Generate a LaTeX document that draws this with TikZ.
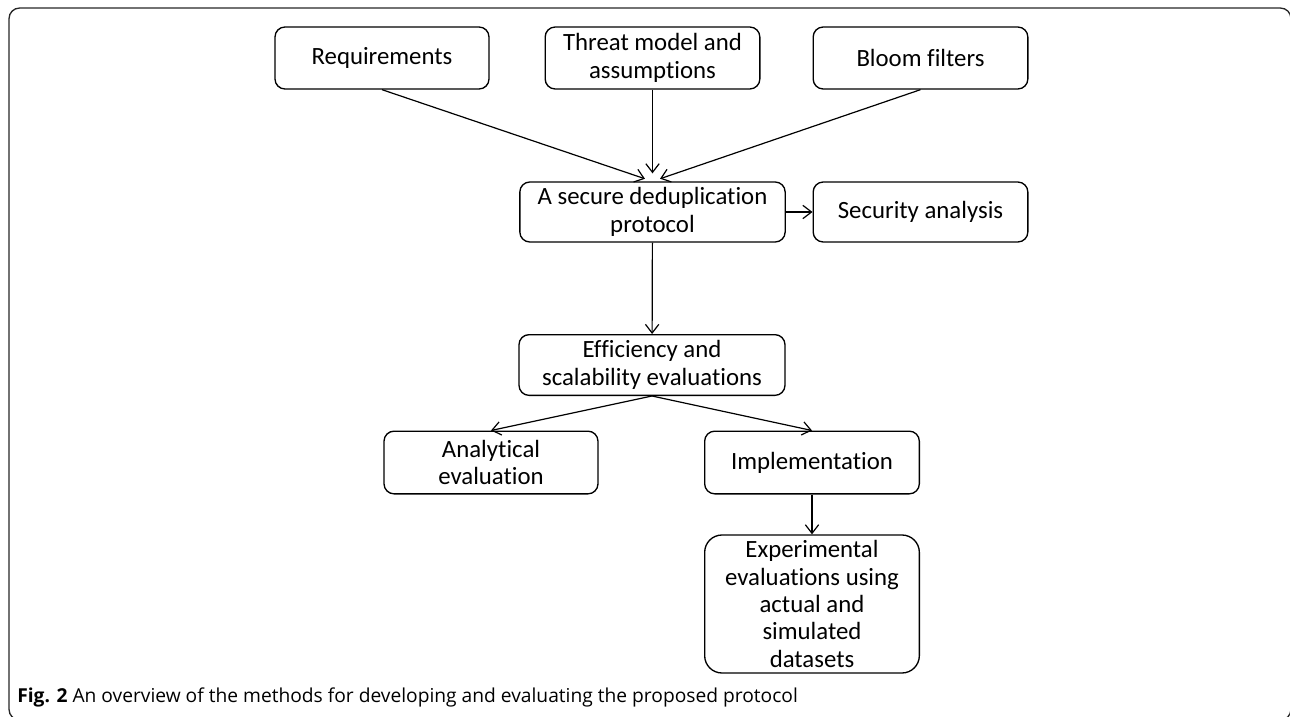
\documentclass[tikz,border=0pt]{standalone}
\usepackage{fontspec}
\setmainfont{Carlito}[Ligatures=NoCommon]
\newfontfamily\capfont{Open Sans}
\usepackage{tikz}
\usetikzlibrary{arrows.meta}
\tikzset{
	block/.style={draw,line width=1pt,rounded corners=7.5pt,align=center,inner sep=0pt,
		minimum width=#1,minimum height=46.5pt,font=\fontsize{18.6}{20.5}\selectfont},
	flow/.style={->,line width=0.9pt},
}

\begin{document}
\begin{tikzpicture}[>={Straight Barb[length=6.5pt,width=10pt]},x=0.75pt,y=-0.75pt]
	\useasboundingbox (0,0) rectangle (1290,717);
	\draw[line width=1pt,black!85,rounded corners=8pt] (9,8) rectangle (1291,720);
	\node[block=160.5pt] (req) at (382,58) {Requirements};
	\node[block=161pt] (threat) at (652.5,58) {Threat model and\\assumptions};
	\node[block=161pt] (bloom) at (920.5,58) {Bloom filters};
	\node[block=199pt,minimum height=45pt] (dedup) at (652.5,212) {A secure deduplication\\protocol};
	\node[block=161pt,minimum height=45pt] (sec) at (920.5,212) {Security analysis};
	\node[block=199.5pt,minimum height=45.5pt] (eff) at (652,365) {Efficiency and\\scalability evaluations};
	\node[block=160.5pt,minimum height=47pt] (ana) at (491,462.5) {Analytical\\evaluation};
	\node[block=161pt,minimum height=47pt] (impl) at (812,462.5) {Implementation};
	\node[block=161pt,minimum height=103.5pt,rounded corners=13pt] (exp) at (812,604)
		{Experimental\\evaluations using\\actual and\\simulated\\datasets};
	\draw[flow,shorten >=6pt] (req.south) -- (dedup.north);
	\draw[flow,shorten >=6pt] (threat.south) -- (dedup.north);
	\draw[flow,shorten >=6pt] (bloom.south) -- (dedup.north);
	\draw[flow] (dedup) -- (sec);
	\draw[flow] (dedup) -- (eff);
	\draw[flow] (eff.south) -- (ana.north);
	\draw[flow] (eff.south) -- (impl.north);
	\draw[flow] (impl) -- (exp);
	\node[anchor=west,inner sep=0pt,font=\capfont\fontsize{14.4}{17}\selectfont] (cap) at (17,697)
		{\textbf{Fig. 2} An overview of the methods for developing and evaluating the proposed protocol};
\end{tikzpicture}
\end{document}
